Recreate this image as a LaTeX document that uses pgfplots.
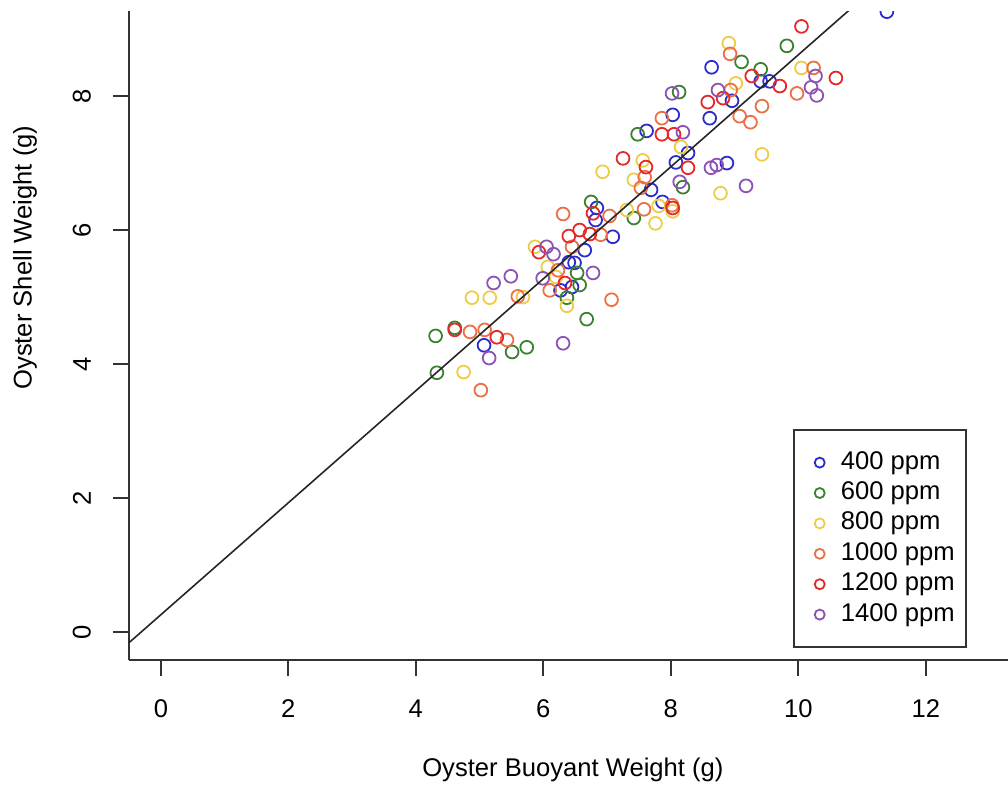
\documentclass[border=0pt]{standalone}
\usepackage{pgfplots}
\pgfplotsset{compat=1.18}
\usepackage{fontspec}
\setmainfont{Liberation Sans}
\definecolor{c400}{RGB}{45,45,205}
\definecolor{c600}{RGB}{60,128,50}
\definecolor{c800}{RGB}{235,205,70}
\definecolor{c1000}{RGB}{235,112,72}
\definecolor{c1200}{RGB}{230,40,40}
\definecolor{c1400}{RGB}{140,82,182}
\begin{document}
\begin{tikzpicture}
\useasboundingbox (-64.5pt,-64.5pt) rectangle (439.5pt,330pt);
\begin{axis}[
  at={(0,0)}, anchor=south west,
  scale only axis, width=439.5pt, height=324.5pt,
  xmin=-0.5, xmax=13.29, ymin=-0.418, ymax=9.27,
  clip marker paths=true,
  axis x line=bottom, axis y line=left,
  axis line style={-, line width=1pt, draw=black!80},
  tick align=outside, major tick length=8pt,
  tick style={line width=1pt, draw=black!80},
  xtick={0,2,...,12}, ytick={0,2,...,8},
  /pgf/number format/assume math mode=true,
  font=\fontsize{12.8}{15}\selectfont,
  ticklabel style={font=\fontsize{12.8}{15}\selectfont},
  xticklabel shift=8.5pt,
  yticklabel shift=7.5pt,
  yticklabel style={rotate=90, anchor=south},
  xlabel={Oyster Buoyant Weight (g)},
  ylabel={Oyster Shell Weight (g)},
  every axis x label/.style={at={(axis description cs:0.505,0)}, anchor=center, yshift=-55pt},
  every axis y label/.style={at={(axis description cs:0,0.62)}, rotate=90, anchor=center, yshift=52pt},
  legend cell align=left,
  legend style={at={(0.953,0.018)}, anchor=south east, draw=black!80, line width=1pt,
    font=\fontsize{12.8}{15}\selectfont, inner xsep=3.9pt, inner ysep=8.75pt,
    nodes={inner sep=1.6pt, text height=9.2pt, text depth=2.8pt}, row sep=0pt},
  legend image code/.code={\path (0pt,0pt) (17pt,0pt); \draw[#1, mark size=2.5pt] plot coordinates {(8.5pt,0pt)};},
]
\addplot[only marks, mark=o, mark size=3.2pt, line width=0.9pt, color=c400] coordinates {
(5.07,4.28) (6.27,5.10) (6.45,5.15) (6.40,5.52) (6.49,5.51) (6.65,5.70) (7.09,5.90)
(6.84,6.33) (6.82,6.15) (7.62,7.48) (8.03,7.72) (7.69,6.60) (7.87,6.42) (8.08,7.01)
(8.27,7.15) (8.88,7.00) (8.61,7.67) (8.64,8.43) (8.96,7.93) (9.41,8.22) (9.55,8.22)
(11.39,9.26)};
\addlegendentry{400 ppm}
\addplot[only marks, mark=o, mark size=3.2pt, line width=0.9pt, color=c600] coordinates {
(4.31,4.42) (4.33,3.87) (4.61,4.54) (5.51,4.18) (5.74,4.25) (6.68,4.67) (6.37,4.99)
(6.57,5.18) (6.53,5.36) (6.75,6.42) (7.42,6.18) (7.48,7.43) (8.13,8.06) (8.19,6.64)
(9.11,8.51) (9.41,8.40) (9.82,8.75)};
\addlegendentry{600 ppm}
\addplot[only marks, mark=o, mark size=3.2pt, line width=0.9pt, color=c800] coordinates {
(4.75,3.88) (4.88,4.99) (5.16,4.99) (5.68,5.00) (5.87,5.75) (6.07,5.45) (6.20,5.30)
(6.37,4.87) (6.93,6.87) (7.31,6.30) (7.42,6.75) (7.56,7.04) (7.76,6.10) (8.03,6.28)
(7.81,6.36) (8.16,7.24) (8.78,6.55) (9.43,7.13) (9.02,8.19) (8.91,8.79) (10.05,8.42)};
\addlegendentry{800 ppm}
\addplot[only marks, mark=o, mark size=3.2pt, line width=0.9pt, color=c1000] coordinates {
(4.85,4.48) (5.08,4.51) (5.43,4.36) (5.02,3.61) (5.60,5.01) (6.10,5.10) (6.23,5.40)
(6.31,6.24) (6.45,5.75) (6.90,5.93) (7.04,6.21) (7.07,4.96) (7.53,6.63) (7.59,6.79)
(7.58,6.31) (7.86,7.67) (8.02,6.37) (8.94,8.09) (8.93,8.63) (9.08,7.70) (9.25,7.61)
(9.43,7.85) (9.98,8.04) (10.24,8.42)};
\addlegendentry{1000 ppm}
\addplot[only marks, mark=o, mark size=3.2pt, line width=0.9pt, color=c1200] coordinates {
(4.61,4.51) (5.27,4.40) (5.93,5.67) (6.34,5.21) (6.40,5.91) (6.57,6.00) (6.73,5.94)
(6.78,6.25) (7.25,7.07) (7.61,6.94) (7.86,7.43) (8.05,7.43) (8.27,6.93) (8.03,6.33)
(8.58,7.91) (8.82,7.97) (9.27,8.30) (9.71,8.15) (10.59,8.27) (10.05,9.04)};
\addlegendentry{1200 ppm}
\addplot[only marks, mark=o, mark size=3.2pt, line width=0.9pt, color=c1400] coordinates {
(5.15,4.09) (5.22,5.21) (5.49,5.31) (6.31,4.31) (5.99,5.28) (6.05,5.75) (6.16,5.64)
(6.78,5.36) (8.02,8.04) (8.19,7.46) (8.14,6.72) (8.63,6.93) (8.72,6.97) (9.18,6.66)
(8.74,8.09) (10.27,8.30) (10.20,8.13) (10.29,8.01)};
\addlegendentry{1400 ppm}
\addplot[forget plot, no marks, line width=0.8pt, color=black!85] coordinates {(-0.5,-0.16) (11.8,10.12)};
\end{axis}
\end{tikzpicture}
\end{document}
